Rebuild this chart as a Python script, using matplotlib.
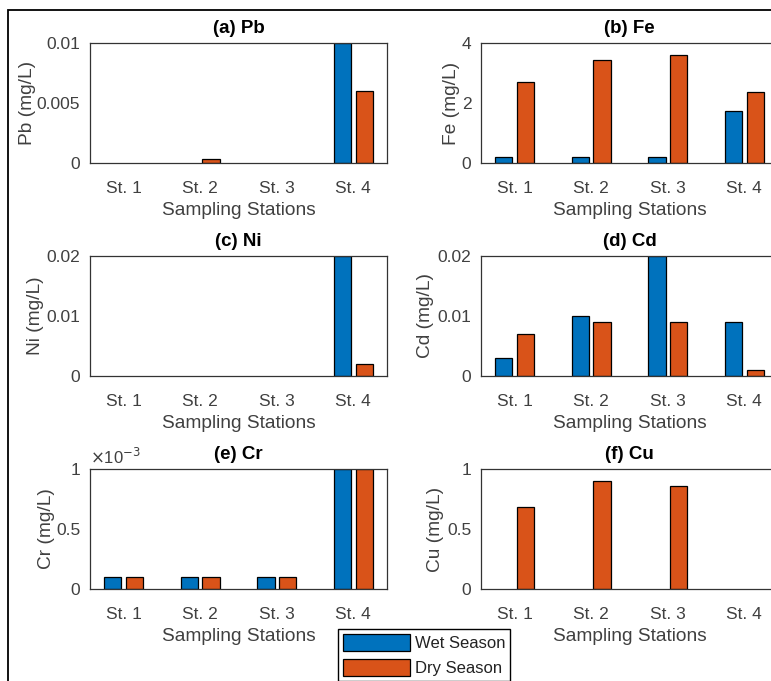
import matplotlib
matplotlib.use("Agg")
import matplotlib.pyplot as plt
import numpy as np
from matplotlib.ticker import FuncFormatter
from matplotlib.patches import Rectangle

plt.rcParams['font.family'] = ['Liberation Sans', 'DejaVu Sans']

# ---- data (mg/L) ----
stations = ['St. 1', 'St. 2', 'St. 3', 'St. 4']
seasons = ['Wet Season', 'Dry Season']

pb_wet = [0, 0, 0, 0.01]
pb_dry = [0, 0.0003, 0, 0.006]
fe_wet = [0.19, 0.19, 0.19, 1.74]
fe_dry = [2.71, 3.43, 3.60, 2.36]
ni_wet = [0, 0, 0, 0.02]
ni_dry = [0, 0, 0, 0.002]
cd_wet = [0.003, 0.010, 0.020, 0.009]
cd_dry = [0.007, 0.009, 0.009, 0.001]
cr_wet = [0.0001, 0.0001, 0.0001, 0.001]
cr_dry = [0.0001, 0.0001, 0.0001, 0.001]
cu_wet = [0, 0, 0, 0]
cu_dry = [0.68, 0.90, 0.86, 0]

panels = [
    ('(a) Pb', 'Pb (mg/L)', pb_wet, pb_dry, [0, 0.005, 0.01]),
    ('(b) Fe', 'Fe (mg/L)', fe_wet, fe_dry, [0, 2, 4]),
    ('(c) Ni', 'Ni (mg/L)', ni_wet, ni_dry, [0, 0.01, 0.02]),
    ('(d) Cd', 'Cd (mg/L)', cd_wet, cd_dry, [0, 0.01, 0.02]),
    ('(e) Cr', 'Cr (mg/L)', cr_wet, cr_dry, [0, 0.0005, 0.001]),
    ('(f) Cu', 'Cu (mg/L)', cu_wet, cu_dry, [0, 0.5, 1]),
]

# ylabel x offsets (axes coords), tuned to match MATLAB placement
ylab_x = [-0.182, -0.071, -0.155, -0.158, -0.118, -0.125]

WET = '#0072BD'
DRY = '#D95319'
TXT = '#404040'
SPINE = '#333333'

W, H = 771, 681
fig = plt.figure(figsize=(W / 100, H / 100), dpi=100)

lefts = [90, 481]
tops = [43, 256, 469]
aw, ah = 297, 120

x = np.arange(1, len(stations) + 1)
off = 0.1429
bw = 0.2286


def edge_widths(vals):
    # zero-height bars get no outline (MATLAB draws nothing there)
    return [0.9 if v > 0 else 0 for v in vals]


handles = None
for i, (title, ylab, wet, dry, yt) in enumerate(panels):
    r, c = divmod(i, 2)
    ax = fig.add_axes([lefts[c] / W, 1 - (tops[r] + ah) / H, aw / W, ah / H])
    hw = ax.bar(x - off, wet, bw, color=WET, edgecolor='black',
                linewidth=edge_widths(wet))
    hd = ax.bar(x + off, dry, bw, color=DRY, edgecolor='black',
                linewidth=edge_widths(dry))
    handles = (hw, hd)
    ax.set_xlim(0.56, 4.44)
    ax.set_ylim(yt[0], yt[-1])
    ax.set_xticks(x)
    ax.set_xticklabels(stations)
    ax.set_yticks(yt)
    if i == 4:
        ax.yaxis.set_major_formatter(FuncFormatter(lambda v, p: f"{v * 1e3:g}"))
        ax.text(0.0, 1.02, r'$\times$10$^{-3}$', transform=ax.transAxes,
                fontsize=12, color=TXT, ha='left', va='bottom')
    else:
        ax.yaxis.set_major_formatter(FuncFormatter(lambda v, p: f"{v:g}"))
    ax.tick_params(axis='both', direction='in', length=0,
                   labelcolor=TXT, labelsize=12.5)
    ax.tick_params(axis='x', pad=13)
    ax.tick_params(axis='y', pad=7)
    for s in ax.spines.values():
        s.set_color(SPINE)
        s.set_linewidth(0.9)
    ax.set_title(title, fontsize=13.5, fontweight='bold', color='black', pad=7)
    ax.set_xlabel('Sampling Stations', fontsize=13.75, color=TXT, labelpad=4)
    ax.set_ylabel(ylab, fontsize=13.75, color=TXT)
    ax.yaxis.set_label_coords(ylab_x[i], 0.5)

leg = fig.legend(handles, seasons, loc='upper left',
                 bbox_to_anchor=(338 / W, 1 - 629 / H), fontsize=12,
                 frameon=True, fancybox=False, framealpha=1,
                 edgecolor='black', handlelength=4.0, handleheight=1.2,
                 handletextpad=0.3, labelspacing=0.45, borderpad=0.3,
                 borderaxespad=0)
leg.get_frame().set_linewidth(1.0)
for t in leg.get_texts():
    t.set_color('#222222')
for p in leg.get_patches():
    p.set_linewidth(0.9)

# outer window border
fig.add_artist(Rectangle((8 / W, -0.1), 1.2, 1 - 10 / H + 0.1,
                         transform=fig.transFigure, fill=False,
                         edgecolor='black', linewidth=1.3))

fig.savefig('out.png', dpi=100)
